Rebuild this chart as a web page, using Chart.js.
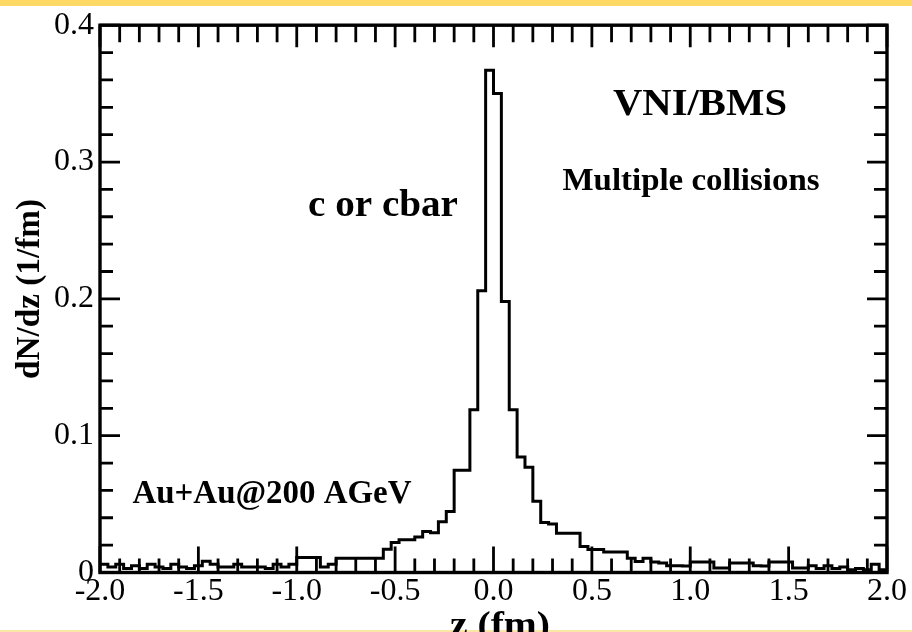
<!DOCTYPE html>
<html>
<head>
<meta charset="utf-8">
<script src="https://cdn.jsdelivr.net/npm/chart.js@4/dist/chart.umd.min.js"></script>
<style>
  html, body { margin: 0; padding: 0; background: #fff; }
  canvas { display: block; }
</style>
</head>
<body>
<canvas id="c" width="912" height="632"></canvas>
<script>
// ---- Data ----
// Histogram bin edges (z in fm)
const binEdges = [
  -2.00,-1.96,-1.92,-1.88,-1.84,-1.80,-1.76,-1.72,-1.68,-1.64,
  -1.60,-1.56,-1.52,-1.48,-1.44,-1.40,-1.36,-1.32,-1.28,-1.24,
  -1.20,-1.16,-1.12,-1.08,-1.04,-1.00,-0.96,-0.92,-0.88,-0.84,
  -0.80,-0.76,-0.72,-0.68,-0.64,-0.60,-0.56,-0.52,-0.48,-0.44,
  -0.40,-0.36,-0.32,-0.28,-0.24,-0.20,-0.16,-0.12,-0.08,-0.04,
   0.00, 0.04, 0.08, 0.12, 0.16, 0.20, 0.24, 0.28, 0.32, 0.36,
   0.40, 0.44, 0.48, 0.52, 0.56, 0.60, 0.64, 0.68, 0.72, 0.76,
   0.80, 0.84, 0.88, 0.92, 0.96, 1.00, 1.04, 1.08, 1.12, 1.16,
   1.20, 1.24, 1.28, 1.32, 1.36, 1.40, 1.44, 1.48, 1.52, 1.56,
   1.60, 1.64, 1.68, 1.72, 1.76, 1.80, 1.84, 1.88, 1.92, 1.96,
   2.00
];
// dN/dz (1/fm) in each bin
const dNdz = [
  0.006,0.004,0.006,0.003,0.005,0.003,0.006,0.004,0.003,0.006,
  0.004,0.003,0.005,0.0083,0.006,0.004,0.004,0.006,0.004,0.004,
  0.004,0.003,0.006,0.004,0.006,0.011,0.011,0.011,0.004,0.006,
  0.0105,0.0105,0.0105,0.0105,0.0105,0.0105,0.017,0.022,0.024,0.024,
  0.026,0.030,0.029,0.037,0.0446,0.0748,0.0748,0.119,0.206,0.367,
  0.350,0.198,0.119,0.0844,0.077,0.052,0.0366,0.0354,0.0286,0.0286,
  0.0286,0.019,0.0168,0.0168,0.0149,0.0149,0.0149,0.0105,0.008,0.0105,
  0.0076,0.007,0.005,0.005,0.0047,0.0076,0.0076,0.0076,0.0033,0.0033,
  0.007,0.007,0.007,0.005,0.0047,0.0076,0.0076,0.0076,0.0033,0.0033,
  0.005,0.003,0.005,0.003,0.004,0.002,0.003,0.002,0.006,0.002
];
const xTickLabels = [-2.0,-1.5,-1.0,-0.5,0.0,0.5,1.0,1.5,2.0];
const yTickLabels = [0,0.1,0.2,0.3,0.4];
const xTitle = 'z (fm)';
const yTitle = 'dN/dz (1/fm)';
const annotations = [
  { text: 'VNI/BMS', x: 700, y: 115, size: 37, width: 174 },
  { text: 'Multiple collisions', x: 691, y: 190, size: 31, width: 257 },
  { text: 'c or cbar', x: 383, y: 216, size: 37, width: 150 },
  { text: 'Au+Au@200 AGeV', x: 272, y: 503, size: 33, width: 279 }
];

// Step points: left edge of each bin carries that bin's value, plus the final edge
const points = dNdz.map((v, i) => ({ x: binEdges[i], y: v }));
points.push({ x: binEdges[binEdges.length - 1], y: dNdz[dNdz.length - 1] });

function fitText(ctx, text, cx, cy, size, width, rotate) {
  ctx.save();
  ctx.font = 'bold ' + size + 'px "Liberation Serif", "Times New Roman", serif';
  ctx.fillStyle = '#000';
  const m = ctx.measureText(text).width;
  const sx = width ? width / m : 1;
  ctx.translate(cx, cy);
  if (rotate) ctx.rotate(-Math.PI / 2);
  ctx.scale(sx, 1);
  ctx.textAlign = 'center';
  ctx.textBaseline = rotate ? 'middle' : 'alphabetic';
  ctx.fillText(text, 0, 0);
  ctx.restore();
}

const framePlugin = {
  id: 'frame',
  beforeDraw(chart) {
    const ctx = chart.ctx;
    ctx.save();
    ctx.fillStyle = '#fff';
    ctx.fillRect(0, 0, chart.width, chart.height);
    ctx.fillStyle = '#FFD966';
    ctx.fillRect(0, 0, chart.width, 6);
    ctx.fillStyle = '#FBE6A6';
    ctx.fillRect(0, 630, chart.width, 2);
    ctx.restore();
  },
  afterDatasetsDraw(chart) {
    const { ctx, chartArea: a, scales } = chart;
    const xs = scales.x, ys = scales.y;
    ctx.save();
    ctx.strokeStyle = '#000';
    ctx.lineCap = 'butt';
    ctx.lineWidth = 2.8;
    ctx.beginPath();
    for (let i = 0; i <= 40; i++) {
      const v = -2 + i * 0.1;
      const px = xs.getPixelForValue(v);
      const major = i % 5 === 0;
      const lb = major ? 26 : 14;
      const lt = major ? 22 : 17;
      ctx.moveTo(px, a.bottom); ctx.lineTo(px, a.bottom - lb);
      ctx.moveTo(px, a.top); ctx.lineTo(px, a.top + lt);
    }
    for (let i = 0; i <= 20; i++) {
      const v = i * 0.02;
      const py = ys.getPixelForValue(v);
      const major = i % 5 === 0;
      const l = major ? 20 : 13;
      ctx.moveTo(a.left, py); ctx.lineTo(a.left + l, py);
      ctx.moveTo(a.right, py); ctx.lineTo(a.right - l, py);
    }
    ctx.stroke();
    ctx.lineWidth = 3.4;
    ctx.strokeRect(a.left, a.top, a.right - a.left, a.bottom - a.top);
    ctx.restore();
  },
  afterDraw(chart) {
    const ctx = chart.ctx;
    annotations.forEach(t => fitText(ctx, t.text, t.x, t.y, t.size, t.width, false));
    fitText(ctx, yTitle, 30, 289, 33, 180, true);
    fitText(ctx, xTitle, 500, 636, 36, 100, false);
  }
};

const tickFont = { family: '"Liberation Serif", "Times New Roman", serif', size: 32 };

new Chart(document.getElementById('c'), {
  type: 'line',
  data: {
    datasets: [{
      data: points,
      stepped: 'before',
      borderColor: '#000',
      borderWidth: 3,
      pointRadius: 0,
      fill: false,
      tension: 0
    }]
  },
  options: {
    responsive: false,
    animation: false,
    events: [],
    layout: { padding: { top: 17.5, right: 25, left: 0, bottom: 0 } },
    plugins: { legend: { display: false }, tooltip: { enabled: false } },
    scales: {
      x: {
        type: 'linear', min: -2, max: 2,
        afterFit(s) { s.height = 59.5; },
        afterBuildTicks(s) { s.ticks = xTickLabels.map(v => ({ value: v })); },
        ticks: {
          callback: v => Number(v).toFixed(1),
          font: tickFont, color: '#000', padding: 0,
          maxRotation: 0, autoSkip: false
        },
        grid: { display: false, drawTicks: false },
        border: { display: false }
      },
      y: {
        type: 'linear', min: 0, max: 0.4,
        afterFit(s) { s.width = 100; },
        afterBuildTicks(s) { s.ticks = yTickLabels.map(v => ({ value: v })); },
        ticks: {
          callback: v => (v === 0 ? '0' : Number(v).toFixed(1)),
          font: tickFont, color: '#000', padding: 6, autoSkip: false
        },
        grid: { display: false, drawTicks: false },
        border: { display: false }
      }
    }
  },
  plugins: [framePlugin]
});
</script>
</body>
</html>
